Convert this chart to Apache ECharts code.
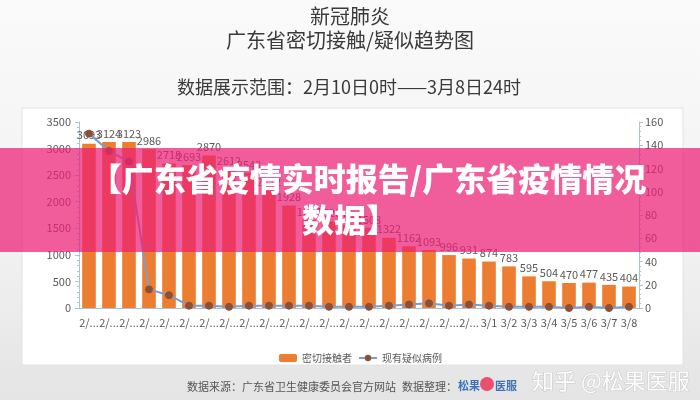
<!DOCTYPE html>
<html><head><meta charset="utf-8">
<script src="https://cdn.jsdelivr.net/npm/echarts@6/dist/echarts.min.js"></script>
<style>html,body{margin:0;padding:0;background:#fff}#c{width:700px;height:400px}</style>
</head><body><div id="c"></div>
<script>
const categories = ['2/10','2/11','2/12','2/13','2/14','2/15','2/16','2/17','2/18','2/19','2/20','2/21','2/22','2/23','2/24','2/25','2/26','2/27','2/28','2/29','3/1','3/2','3/3','3/4','3/5','3/6','3/7','3/8'];
const contacts = [3093,3124,3123,2986,2718,2693,2870,2612,2543,2212,1928,1655,1626,1560,1508,1322,1162,1093,996,931,874,783,595,504,470,477,435,404];
const suspected = [150,135,126,16,11,2,2,1,2,2,2,2,1,1,1,2,3,4,2,3,2,1,1,1,0,1,0,1];
const seriesNames = ['密切接触者','现有疑似病例'];
const titleLines = ['新冠肺炎','广东省密切接触/疑似趋势图'];
const subtitle = '数据展示范围：2月10日0时——3月8日24时';
const bannerLines = ['【广东省疫情实时报告/广东省疫情情况','数据】'];
const footer = '数据来源：广东省卫生健康委员会官方网站';
const footer2 = '数据整理：';
const watermark = '知乎 @松果医服';

const FONT = '"Noto Sans CJK SC", "Noto Sans", sans-serif';
const chart = echarts.init(document.getElementById('c'), null, {renderer:'canvas'});
const axisCol = '#a8c3df';
const labCol = '#595959';
chart.setOption({
  backgroundColor: new echarts.graphic.LinearGradient(0,0,0,1,[{offset:0,color:'#fafafa'},{offset:0.6,color:'#f2f2f2'},{offset:1,color:'#e4e4e4'}]),
  textStyle:{fontFamily:FONT},
  animation:false,
  grid:{left:79,right:61,top:122,bottom:92},
  legend:{
    data:seriesNames, left:274, top:348, itemGap:6,
    textStyle:{color:labCol,fontSize:10,fontFamily:FONT},
    itemWidth:18, itemHeight:8
  },
  xAxis:{
    type:'category', data:categories,
    axisLine:{lineStyle:{color:axisCol}},
    axisTick:{show:false},
    axisLabel:{interval:0,color:labCol,fontSize:11,margin:9,
      formatter:v => v.length > 3 ? v.slice(0,2)+'...' : v}
  },
  yAxis:[
    {type:'value',min:0,max:3500,interval:500,
     axisLine:{show:true,lineStyle:{color:axisCol}},
     axisTick:{show:true,length:4,lineStyle:{color:axisCol}},
     minorTick:{show:true,splitNumber:5,length:2,lineStyle:{color:axisCol}},
     splitLine:{show:false},
     axisLabel:{color:labCol,fontSize:11,margin:8,formatter:v => String(v)}},
    {type:'value',min:0,max:160,interval:20,
     axisLine:{show:true,lineStyle:{color:axisCol}},
     axisTick:{show:true,length:4,lineStyle:{color:axisCol}},
     minorTick:{show:true,splitNumber:5,length:2,lineStyle:{color:axisCol}},
     splitLine:{show:false},
     axisLabel:{color:labCol,fontSize:11,margin:6,formatter:v => String(v)}}
  ],
  series:[
    {name:seriesNames[0],type:'bar',data:contacts,barWidth:'68%',
     itemStyle:{color:'#ec7d31'},
     label:{show:true,position:'top',color:labCol,fontSize:11,distance:3}},
    {name:seriesNames[1],type:'line',yAxisIndex:1,data:suspected,
     symbol:'circle',symbolSize:7,
     lineStyle:{color:'#7e9dc8',width:2},
     itemStyle:{color:'#8b5038',borderColor:'#8b5038'}, z:3}
  ],
  graphic:[
    {type:'rect',z:-10,shape:{x:22,y:108,width:661,height:257},style:{fill:'#ffffff',stroke:'#e2e2e2',lineWidth:1}},
    {type:'text',z:10,left:'center',top:6,style:{text:titleLines[0],font:'20px '+FONT,fill:'#3a3a3a'}},
    {type:'text',z:10,left:'center',top:30,style:{text:titleLines[1],font:'20px '+FONT,fill:'#3a3a3a'}},
    {type:'text',z:10,x:349,y:87,style:{text:subtitle,font:'18px '+FONT,fill:'#3a3a3a',align:'center',verticalAlign:'middle'}},
    {type:'text',z:10,x:187,y:387,style:{text:footer,font:'11px '+FONT,fill:'#555',verticalAlign:'middle'}},
    {type:'text',z:10,x:402,y:387,style:{text:footer2,font:'11px '+FONT,fill:'#555',verticalAlign:'middle'}},
    {type:'text',z:10,x:458,y:386,style:{text:'松果',font:'bold 11px '+FONT,fill:'#3f72b8',verticalAlign:'middle'}},
    {type:'circle',z:10,shape:{cx:487,cy:384,r:7},style:{fill:'#e8506e'}},
    {type:'text',z:10,x:495,y:386,style:{text:'医服',font:'bold 11px '+FONT,fill:'#3f72b8',verticalAlign:'middle'}},
    {type:'text',z:10,x:532,y:381,style:{text:watermark,font:'22px '+FONT,fill:'rgba(255,255,255,0.95)',stroke:'rgba(150,150,150,0.35)',lineWidth:1,verticalAlign:'middle'}},
    {type:'rect',z:100,shape:{x:0,y:148,width:700,height:104},style:{fill:'rgba(236,30,116,0.72)'}},
    {type:'text',z:101,x:368,y:179,style:{text:bannerLines[0],font:'900 32px '+FONT,fill:'#ffffff',align:'center',verticalAlign:'middle'}},
    {type:'text',z:101,x:350,y:220,style:{text:bannerLines[1],font:'900 32px '+FONT,fill:'#ffffff',align:'center',verticalAlign:'middle'}}
  ]
});
</script></body></html>
